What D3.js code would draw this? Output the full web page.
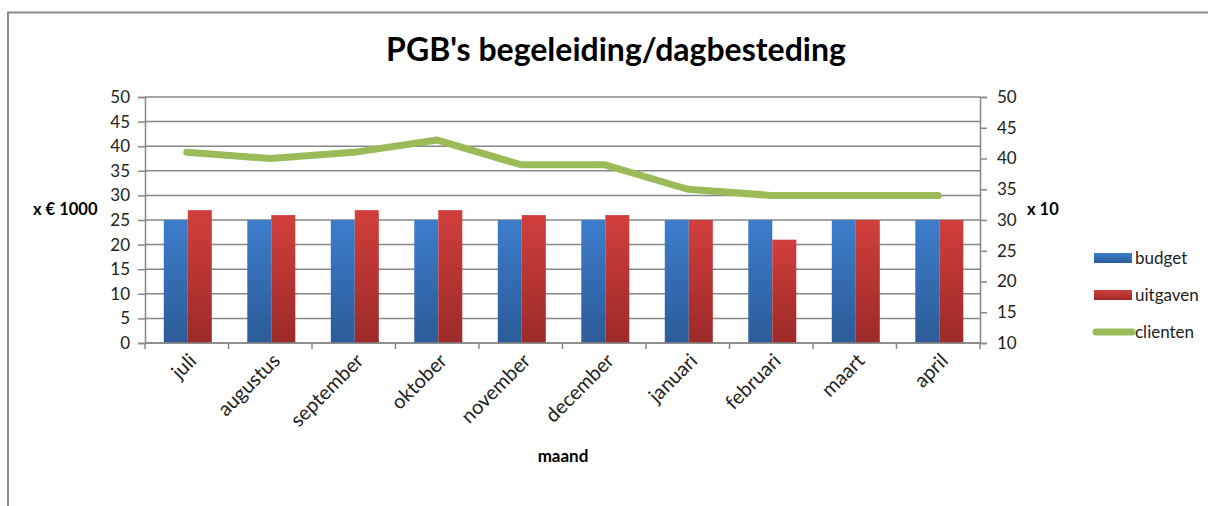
<!DOCTYPE html>
<html lang="nl">
<head>
<meta charset="UTF-8">
<title>PGB's begeleiding/dagbesteding</title>
<script src="https://d3js.org/d3.v7.min.js"></script>
<style>
  body { margin: 0; background: #fff; }
  text { font-family: Lato, "Open Sans", sans-serif; fill: #000; }
  .tick-label { font-size: 17px; fill: #222; }
  .bold { font-weight: bold; }
</style>
</head>
<body>
<div id="chart"></div>
<script>
// data
const months = ["juli", "augustus", "september", "oktober", "november", "december", "januari", "februari", "maart", "april"];
const budget = [25, 25, 25, 25, 25, 25, 25, 25, 25, 25];
const uitgaven = [27, 26, 27, 27, 26, 26, 25, 21, 25, 25];
const clienten = [41, 40, 41, 43, 39, 39, 35, 34, 34, 34];
const leftTicks = [0, 5, 10, 15, 20, 25, 30, 35, 40, 45, 50];
const rightTicks = [10, 15, 20, 25, 30, 35, 40, 45, 50];

const W = 1208, H = 506;
const plot = { left: 145, right: 980, top: 97, bottom: 343 };
const gridColor = "#878787";

const svg = d3.select("#chart").append("svg")
    .attr("width", W).attr("height", H);

// gradients for the bars
const defs = svg.append("defs");
function grad(id, top, bottom) {
    const g = defs.append("linearGradient").attr("id", id)
        .attr("x1", 0).attr("y1", 0).attr("x2", 0).attr("y2", 1);
    g.append("stop").attr("offset", "0%").attr("stop-color", top);
    g.append("stop").attr("offset", "100%").attr("stop-color", bottom);
}
grad("gBlue", "#3D7DCC", "#2C5B98");
grad("gRed", "#D13F3C", "#9C2A28");

// chart border (top + left visible)
svg.append("path")
    .attr("d", `M8,${H} L8,12.5 L${W},12.5`)
    .attr("fill", "none").attr("stroke", "#8a8a8a").attr("stroke-width", 2);

const x = d3.scaleBand().domain(months).range([plot.left, plot.right]).padding(0);
const bw = x.bandwidth();
const x1 = d3.scaleBand().domain(["budget", "uitgaven"]).range([0.225 * bw, 0.8 * bw]).padding(0);
const yL = d3.scaleLinear().domain([0, 50]).range([plot.bottom, plot.top]);
const yR = d3.scaleLinear().domain([10, 50]).range([plot.bottom, plot.top]);

// gridlines
svg.append("g").selectAll("line").data(leftTicks).join("line")
    .attr("x1", plot.left).attr("x2", plot.right)
    .attr("y1", d => yL(d)).attr("y2", d => yL(d))
    .attr("stroke", gridColor).attr("stroke-width", 1.5);

// left axis
const axL = svg.append("g").attr("transform", `translate(${plot.left},0)`)
    .call(d3.axisLeft(yL).tickValues(leftTicks).tickSize(7).tickPadding(8));
// right axis
const axR = svg.append("g").attr("transform", `translate(${plot.right},0)`)
    .call(d3.axisRight(yR).tickValues(rightTicks).tickSize(7).tickPadding(10));
[axL, axR].forEach(a => {
    a.select(".domain").attr("stroke", gridColor).attr("stroke-width", 1.5);
    a.selectAll(".tick line").attr("stroke", gridColor).attr("stroke-width", 1.5);
    a.selectAll(".tick text").attr("class", "tick-label")
        .style("font-family", "Lato, sans-serif").style("font-size", "17px");
});

// bars
const rows = months.map((m, i) => ({ m, budget: budget[i], uitgaven: uitgaven[i] }));
const groups = svg.append("g").selectAll("g").data(rows).join("g")
    .attr("transform", d => `translate(${x(d.m)},0)`);
groups.selectAll("rect").data(d => [
        { k: "budget", v: d.budget, fill: "url(#gBlue)" },
        { k: "uitgaven", v: d.uitgaven, fill: "url(#gRed)" }])
    .join("rect")
    .attr("x", d => x1(d.k)).attr("width", x1.bandwidth())
    .attr("y", d => yL(d.v)).attr("height", d => yL(0) - yL(d.v))
    .attr("fill", d => d.fill);

// bottom axis
const axB = svg.append("g").attr("transform", `translate(0,${plot.bottom})`);
axB.append("line").attr("x1", plot.left).attr("x2", plot.right)
    .attr("stroke", gridColor).attr("stroke-width", 1.5);
const bounds = months.map(m => x(m)).concat([plot.right]);
axB.selectAll("line.tk").data(bounds).join("line").attr("class", "tk")
    .attr("x1", d => d).attr("x2", d => d).attr("y1", 0).attr("y2", 6)
    .attr("stroke", gridColor).attr("stroke-width", 1.5);
axB.selectAll("text").data(months).join("text")
    .attr("class", "tick-label")
    .attr("text-anchor", "end")
    .style("font-size", "20px")
    .attr("transform", d => `translate(${x(d) + bw / 2 + 11},${19}) rotate(-45)`)
    .text(d => d);

// clienten line
const line = d3.line()
    .x((d, i) => x(months[i]) + bw / 2)
    .y(d => yR(d));
svg.append("path").datum(clienten)
    .attr("d", line)
    .attr("fill", "none").attr("stroke", "#9BBB59")
    .attr("stroke-width", 7).attr("stroke-linecap", "round").attr("stroke-linejoin", "round");

// titles
svg.append("text").attr("class", "bold")
    .attr("x", 616).attr("y", 61).attr("text-anchor", "middle")
    .style("font-size", "32px")
    .text("PGB's begeleiding/dagbesteding");
svg.append("text").attr("class", "bold")
    .attr("x", 33).attr("y", 215).style("font-size", "16.5px")
    .text("x € 1000");
svg.append("text").attr("class", "bold")
    .attr("x", 1027).attr("y", 215).style("font-size", "16.5px")
    .text("x 10");
svg.append("text").attr("class", "bold")
    .attr("x", 563).attr("y", 462).attr("text-anchor", "middle").style("font-size", "17px")
    .text("maand");

// legend
const legendItems = [
    { label: "budget", type: "rect", fill: "url(#gBlue)" },
    { label: "uitgaven", type: "rect", fill: "url(#gRed)" },
    { label: "clienten", type: "line", fill: "#9BBB59" }
];
const lg = svg.append("g").attr("transform", "translate(1094,258)");
legendItems.forEach((it, i) => {
    const g = lg.append("g").attr("transform", `translate(0,${i * 37})`);
    if (it.type === "rect") {
        g.append("rect").attr("x", 0).attr("y", -5).attr("width", 38).attr("height", 10).attr("fill", it.fill);
    } else {
        g.append("line").attr("x1", 2).attr("x2", 38).attr("y1", 0).attr("y2", 0)
            .attr("stroke", it.fill).attr("stroke-width", 7).attr("stroke-linecap", "round");
    }
    g.append("text").attr("x", 41).attr("y", 6).attr("class", "tick-label").text(it.label);
});
</script>
</body>
</html>
